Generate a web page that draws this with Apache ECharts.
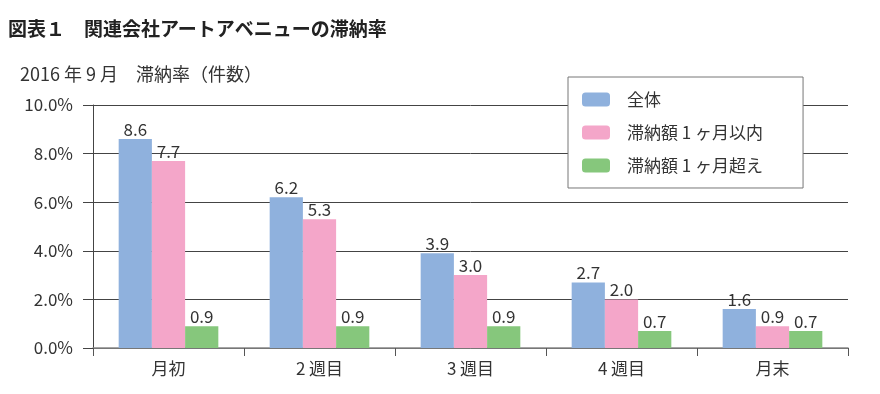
<!DOCTYPE html>
<html><head><meta charset="utf-8">
<script src="https://cdn.jsdelivr.net/npm/echarts@6/dist/echarts.min.js"></script>
<style>html,body{margin:0;padding:0;background:#fff}#c{width:880px;height:394px}</style>
</head><body><div id="c"></div>
<script>
const categories = ['月初', '2 週目', '3 週目', '4 週目', '月末'];
const seriesNames = ['全体', '滞納額 1 ヶ月以内', '滞納額 1 ヶ月超え'];
const allValues = [8.6, 6.2, 3.9, 2.7, 1.6];
const withinValues = [7.7, 5.3, 3.0, 2.0, 0.9];
const overValues = [0.9, 0.9, 0.9, 0.7, 0.7];
const yTicks = [0, 2, 4, 6, 8, 10];
const colors = ['#8FB1DD', '#F4A6C9', '#86C77C'];
const font = '"Noto Sans CJK JP", "Noto Sans", sans-serif';

const chart = echarts.init(document.getElementById('c'), null, {renderer: 'canvas'});
const mk = (name, data, i) => ({
  name, type: 'bar', data, barGap: '0%', barCategoryGap: '34%',
  itemStyle: {color: colors[i]},
  label: {show: true, position: 'top', distance: 1, color: '#333', fontSize: 17, fontFamily: font,
    formatter: p => p.value.toFixed(1)}
});
chart.setOption({
  animation: false,
  textStyle: {fontFamily: font},
  title: [
    {text: '図表１　関連会社アートアベニューの滞納率', left: 3, top: 14, textStyle: {fontSize: 19, fontWeight: 'bold', color: '#222', fontFamily: font}},
    {text: '2016 年 9 月　滞納率（件数）', left: 15, top: 60, textStyle: {fontSize: 18, fontWeight: 'normal', color: '#333', fontFamily: font}}
  ],
  legend: {
    orient: 'vertical', left: 568, top: 77,
    backgroundColor: '#fff', borderColor: '#777', borderWidth: 1,
    padding: [14, 40, 14, 14], itemGap: 16, itemWidth: 28, itemHeight: 14,
    textStyle: {fontSize: 17, color: '#333', fontFamily: font, padding: [0, 0, 0, 12]},
    data: seriesNames
  },
  grid: {left: 93, right: 32, top: 105, bottom: 46, containLabel: false},
  xAxis: {
    type: 'category', data: categories,
    axisLine: {lineStyle: {color: '#888', width: 1.5}},
    axisTick: {show: true, length: 8, lineStyle: {color: '#555'}},
    axisLabel: {fontSize: 17, color: '#333', margin: 12, fontFamily: font}
  },
  yAxis: {
    type: 'value', min: 0, max: 10, interval: 2,
    axisLine: {show: true, lineStyle: {color: '#444'}},
    axisTick: {show: true, length: 10, lineStyle: {color: '#444'}},
    splitLine: {lineStyle: {color: '#444', width: 1}},
    axisLabel: {fontSize: 17, color: '#333', margin: 20, fontFamily: font,
      formatter: v => yTicks.includes(v) ? v.toFixed(1) + '%' : ''}
  },
  series: [mk(seriesNames[0], allValues, 0), mk(seriesNames[1], withinValues, 1), mk(seriesNames[2], overValues, 2)]
});
</script></body></html>
